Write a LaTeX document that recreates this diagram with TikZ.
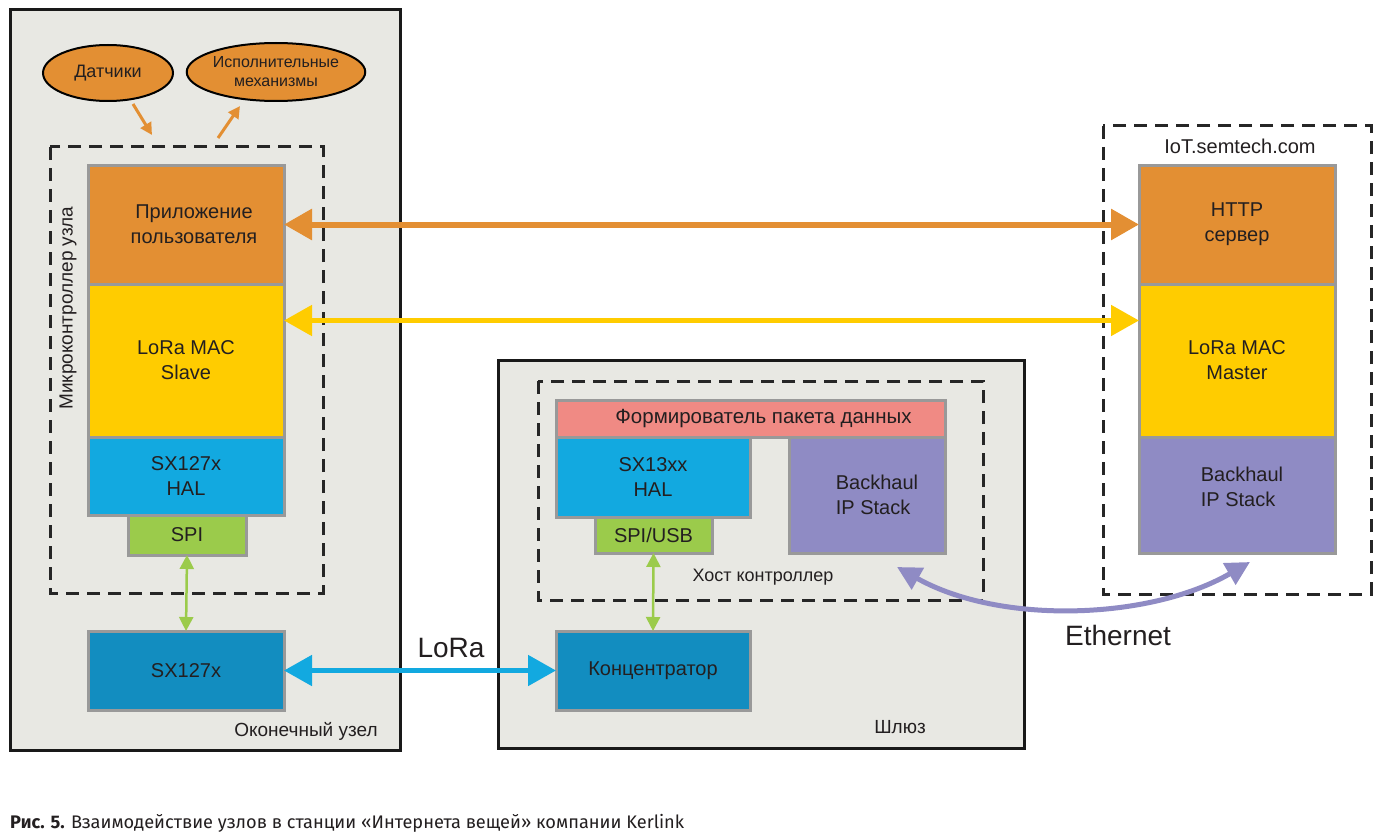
\documentclass[tikz,border=0pt]{standalone}
\usepackage{fontspec}
\setmainfont{Liberation Sans}
\newfontfamily\capfont{Fira Sans}
\usetikzlibrary{arrows.meta,shapes.geometric,calc}
\definecolor{bggray}{HTML}{E8E8E3}
\definecolor{bordergray}{HTML}{999999}
\definecolor{orangeC}{HTML}{E38F33}
\definecolor{yellowC}{HTML}{FFCC00}
\definecolor{blueC}{HTML}{12A9E0}
\definecolor{dblueC}{HTML}{128DC0}
\definecolor{greenC}{HTML}{9BCB4B}
\definecolor{pinkC}{HTML}{F08A84}
\definecolor{purpleC}{HTML}{8F8BC4}
\definecolor{txt}{HTML}{231F20}
\begin{document}
\begin{tikzpicture}[x=1pt,y=-1pt,
  every node/.style={text=txt},
  blk/.style={draw=bordergray, line width=3pt, anchor=north west, inner sep=0pt, outer sep=0pt, align=center, font=\fontsize{20}{25}\selectfont},
  frame/.style={draw=black!90, line width=3pt, fill=bggray},
  dbox/.style={draw=black!85, line width=3pt, dash pattern=on 13pt off 8pt},
  ell/.style={ellipse, draw=black, line width=2pt, fill=orangeC, inner sep=0pt, align=center},
  lbl/.style={font=\fontsize{19}{23}\selectfont},
  bigarrow/.style={line width=6pt, {Triangle[length=28pt,width=30pt]}-{Triangle[length=28pt,width=30pt]}},
  thinarrow/.style={line width=2.5pt, {Triangle[length=14pt,width=14pt]}-{Triangle[length=14pt,width=14pt]}},
  smallarrow/.style={draw=orangeC, line width=3pt, -{Triangle[length=12pt,width=12pt]}}
]
\useasboundingbox (0,0) rectangle (1381,840);
\fill[white] (0,0) rectangle (1381,840);

% frames
\draw[frame] (10,10) rectangle (400,750);
\draw[frame] (498,360) rectangle (1024,748);
\draw[dbox] (50,147) rectangle (323,593);
\draw[dbox] (538,381) rectangle (983,600);
\draw[dbox] (1103,126) rectangle (1371,594);

% ellipses
\node[ell, minimum width=130pt, minimum height=56pt, font=\fontsize{18}{22}\selectfont] (dat) at (108,73) {Датчики};
\node[ell, minimum width=148pt, minimum height=58pt, font=\fontsize{16}{19}\selectfont] (act) at (276,72) {Исполнительные\\механизмы};
\draw[smallarrow] ($(dat.south)+(25,2)$) -- ($(dat.south)+(44,33)$) coordinate (a1);
\draw[smallarrow] ($(act.south)+(-58,36)$) coordinate (a2) -- ($(act.south)+(-36,4)$);

% left stack
\node[blk, fill=orangeC, minimum width=196pt, minimum height=119pt] (app) at (88,165) {\hspace*{16pt}Приложение\\\hspace*{16pt}пользователя};
\node[blk, fill=yellowC, minimum width=196pt, minimum height=153pt] (mac) at (88,284) {LoRa MAC\\Slave};
\node[blk, fill=blueC, minimum width=196pt, minimum height=78pt] (hal) at (88,437) {SX127x\\HAL};
\node[blk, fill=greenC, minimum width=118pt, minimum height=40pt] (spi) at (128,515) {SPI};
\node[blk, fill=dblueC, minimum width=196pt, minimum height=79pt] (sx) at (88,631) {SX127x};
\node[lbl, rotate=90] (mcu) at (68,308) {Микроконтроллер узла};
\node[lbl] (end) at (306,731) {Оконечный узел};

% right stack
\node[lbl, font=\fontsize{20}{24}\selectfont] (iot) at (1240,146) {IoT.semtech.com};
\node[blk, fill=orangeC, minimum width=196pt, minimum height=119pt] (http) at (1139,165) {HTTP\\сервер};
\node[blk, fill=yellowC, minimum width=196pt, minimum height=153pt] (macm) at (1139,284) {LoRa MAC\\Master};
\node[blk, fill=purpleC, minimum width=196pt, minimum height=116pt, align=left, text depth=16pt] (bh) at (1139,437) {\hspace*{10pt}Backhaul\\\hspace*{10pt}IP Stack};

% gateway
\node[blk, fill=pinkC, minimum width=389pt, minimum height=37pt, font=\fontsize{20.5}{24}\selectfont] (pk) at (556,400) {\hspace*{26pt}Формирователь пакета данных};
\node[blk, fill=blueC, minimum width=194pt, minimum height=80pt] (hal2) at (556,437) {SX13xx\\HAL};
\node[blk, fill=greenC, minimum width=117pt, minimum height=36pt] (spiusb) at (595,517) {SPI/USB};
\node[blk, fill=purpleC, minimum width=156pt, minimum height=116pt, align=left] (bh2) at (789,437) {\hspace*{20pt}Backhaul\\\hspace*{20pt}IP Stack};
\node[blk, fill=dblueC, minimum width=194pt, minimum height=79pt] (conc) at (556,631) {Концентратор};
\node[lbl, font=\fontsize{18}{22}\selectfont] (host) at (763,577) {Хост контроллер};
\node[lbl] (gw) at (900,727) {Шлюз};

% connectors
\draw[bigarrow, draw=orangeC] (app.east) -- (http.west);
\draw[bigarrow, draw=yellowC, line width=5pt] ([yshift=40pt]mac.east) -- ([yshift=40pt]macm.west);
\draw[bigarrow, draw=blueC, line width=5pt] (sx.east) -- (conc.west);
\draw[thinarrow, draw=greenC] (spi.south) -- (sx.north);
\draw[thinarrow, draw=greenC] (spiusb.south) -- (conc.north);
\draw[draw=purpleC, line width=5pt, {Triangle[length=24pt,width=24pt]}-{Triangle[length=24pt,width=24pt]}]
  ($(bh2.south east)+(-48,14)$) .. controls (1000,625) and (1150,620) .. ($(bh.south west)+(111,9)$);
\node[font=\fontsize{28}{32}\selectfont] (lora) at (451,648) {LoRa};
\node[font=\fontsize{28}{32}\selectfont] (eth) at (1118,635) {Ethernet};

% caption
\node[anchor=west, inner sep=0pt, font=\capfont\fontsize{18.2}{22}\selectfont] (cap) at (10,823) {\textbf{Рис. 5.} Взаимодействие узлов в станции «Интернета вещей» компании Kerlink};
\end{tikzpicture}
\end{document}
